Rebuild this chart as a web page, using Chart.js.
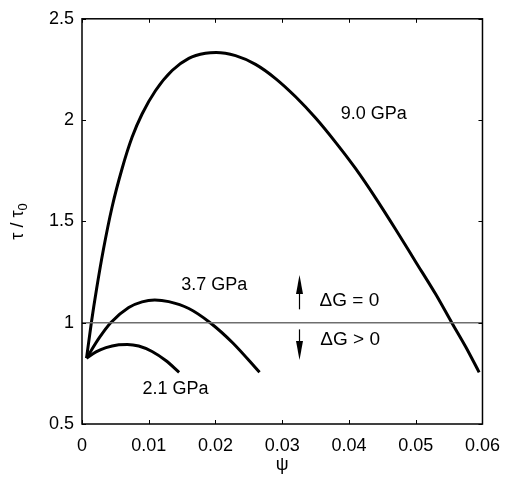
<!DOCTYPE html>
<html>
<head>
<meta charset="utf-8">
<script src="https://cdn.jsdelivr.net/npm/chart.js@4/dist/chart.umd.min.js"></script>
<style>
  html, body { margin: 0; padding: 0; background: #fff; }
  canvas { display: block; }
</style>
</head>
<body>
<canvas id="chart" width="511" height="478"></canvas>
<script>
/* ===== shear stress ratio vs psi ===== */
const FONT = "'Liberation Sans', Arial, sans-serif";

// ---- data ----
const psi90 = [0.00068, 0.0014, 0.0022, 0.0032, 0.0045, 0.006, 0.0075, 0.009, 0.011, 0.0135, 0.016, 0.0185, 0.0201,
               0.023, 0.026, 0.029, 0.032, 0.035, 0.038, 0.041, 0.044, 0.047, 0.050, 0.053, 0.0554, 0.0575, 0.0595];
const tau90 = [0.825, 1.0, 1.17, 1.36, 1.57, 1.76, 1.915, 2.03, 2.145, 2.245, 2.305, 2.330, 2.334,
               2.318, 2.275, 2.205, 2.115, 2.01, 1.89, 1.76, 1.615, 1.46, 1.30, 1.14, 1.0, 0.88, 0.755];

const psi37 = [0.00068, 0.0026, 0.0043, 0.007, 0.009, 0.0109, 0.013, 0.016, 0.0192, 0.0226, 0.0266];
const tau37 = [0.825, 0.926, 1.0, 1.075, 1.103, 1.112, 1.104, 1.07, 1.0, 0.90, 0.755];

const psi21 = [0.00068, 0.0021, 0.0036, 0.0055, 0.0068, 0.0085, 0.0105, 0.0126, 0.01455];
const tau21 = [0.825, 0.856, 0.877, 0.891, 0.893, 0.885, 0.858, 0.812, 0.755];

const refPsi = [0, 0.06];
const refTau = [1, 1];

const xTicks = ['0', '0.01', '0.02', '0.03', '0.04', '0.05', '0.06'];
const yTicks = ['0.5', '1', '1.5', '2', '2.5'];

const curveLabels = ['9.0 GPa', '3.7 GPa', '2.1 GPa'];

// ---- helpers ----
const pts = (xs, ys) => xs.map((x, i) => ({ x, y: ys[i] }));

function curve(data) {
  return { data, showLine: true, borderColor: '#000', borderWidth: 3, pointRadius: 0, fill: false,
           cubicInterpolationMode: 'monotone', borderCapStyle: 'butt', borderJoinStyle: 'round' };
}

function arrow(ctx, px, fromY, toY) {
  const dir = toY < fromY ? -1 : 1;
  ctx.beginPath();
  ctx.lineWidth = 1.2;
  ctx.moveTo(px + 0.5, fromY);
  ctx.lineTo(px + 0.5, toY - dir * 14);
  ctx.stroke();
  ctx.beginPath();
  ctx.moveTo(px + 0.5, toY);
  ctx.lineTo(px + 0.5 - 3.5, toY - dir * 19);
  ctx.lineTo(px + 0.5 + 3.5, toY - dir * 19);
  ctx.closePath();
  ctx.fill();
}

// box frame, inward ticks, annotations and y title
const decorPlugin = {
  id: 'decor',
  afterDraw(chart) {
    const { ctx, chartArea: a, scales: { x, y } } = chart;
    ctx.save();
    ctx.strokeStyle = '#000';
    ctx.lineWidth = 1.5;
    ctx.strokeRect(a.left, a.top, a.right - a.left, a.bottom - a.top);

    ctx.lineWidth = 1;
    ctx.beginPath();
    x.ticks.forEach(t => {
      const px = Math.round(x.getPixelForValue(t.value)) + 0.5;
      ctx.moveTo(px, a.bottom); ctx.lineTo(px, a.bottom - 4);
      ctx.moveTo(px, a.top); ctx.lineTo(px, a.top + 4);
    });
    y.ticks.forEach(t => {
      const py = Math.round(y.getPixelForValue(t.value)) + 0.5;
      ctx.moveTo(a.left, py); ctx.lineTo(a.left + 4, py);
      ctx.moveTo(a.right, py); ctx.lineTo(a.right - 4, py);
    });
    ctx.stroke();

    // curve labels
    ctx.fillStyle = '#000';
    ctx.font = '18px ' + FONT;
    ctx.textBaseline = 'middle';
    ctx.textAlign = 'center';
    ctx.fillText(curveLabels[0], x.getPixelForValue(0.0437), y.getPixelForValue(2.03));
    ctx.fillText(curveLabels[1], x.getPixelForValue(0.0198), y.getPixelForValue(1.186));
    ctx.fillText(curveLabels[2], x.getPixelForValue(0.0140), y.getPixelForValue(0.674));

    ctx.textAlign = 'left';
    ctx.font = '19px ' + FONT;
    ctx.fillText('\u0394G = 0', x.getPixelForValue(0.0356), y.getPixelForValue(1.108));
    ctx.fillText('\u0394G > 0', x.getPixelForValue(0.0357), y.getPixelForValue(0.918));

    // arrows
    const ax = Math.round(x.getPixelForValue(0.0325));
    arrow(ctx, ax, y.getPixelForValue(1.066), y.getPixelForValue(1.235));
    arrow(ctx, ax, y.getPixelForValue(0.967), y.getPixelForValue(0.816));

    // y axis title: tau / tau_0
    ctx.translate(18, (a.top + a.bottom) / 2);
    ctx.rotate(-Math.PI / 2);
    const main = '\u03c4 / \u03c4';
    ctx.font = '13px ' + FONT;
    const subW = ctx.measureText('0').width;
    ctx.font = '18px ' + FONT;
    const mainW = ctx.measureText(main).width;
    const left = -(mainW + subW) / 2;
    ctx.fillText(main, left, 0);
    ctx.font = '13px ' + FONT;
    ctx.fillText('0', left + mainW, 5);
    ctx.restore();
  }
};

// ---- chart ----
new Chart(document.getElementById('chart'), {
  type: 'scatter',
  data: {
    datasets: [
      { data: pts(refPsi, refTau), showLine: true, borderColor: '#6e6e6e', borderWidth: 1.5, pointRadius: 0 },
      curve(pts(psi90, tau90)),
      curve(pts(psi37, tau37)),
      curve(pts(psi21, tau21))
    ]
  },
  options: {
    responsive: false,
    animation: false,
    layout: { padding: { top: 14, right: 18, left: 0, bottom: 0 } },
    plugins: { legend: { display: false }, tooltip: { enabled: false } },
    scales: {
      x: {
        type: 'linear', min: 0, max: 0.06,
        afterFit: s => { s.height = 54; },
        grid: { display: false, drawTicks: false },
        border: { display: false },
        ticks: { stepSize: 0.01, padding: 11, color: '#000', font: { family: FONT, size: 18 },
                 callback: (v, i) => xTicks[i] },
        title: { display: true, text: '\u03c8', color: '#000', font: { family: FONT, size: 18 },
                 padding: { top: 0, bottom: 2 } }
      },
      y: {
        type: 'linear', min: 0.5, max: 2.5,
        afterFit: s => { s.width = 82; },
        grid: { display: false, drawTicks: false },
        border: { display: false },
        ticks: { stepSize: 0.5, padding: 8, color: '#000', font: { family: FONT, size: 18 },
                 callback: (v, i) => yTicks[i] }
      }
    }
  },
  plugins: [decorPlugin]
});
</script>
</body>
</html>
